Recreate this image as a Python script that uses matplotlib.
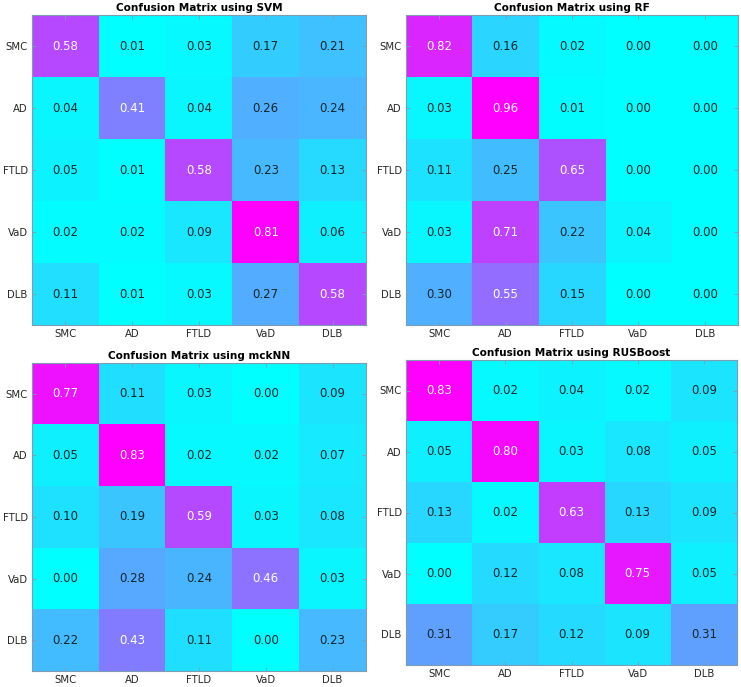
import matplotlib
matplotlib.use("Agg")
import matplotlib.pyplot as plt
import numpy as np

classes = ["SMC", "AD", "FTLD", "VaD", "DLB"]

svm = [[0.58, 0.01, 0.03, 0.17, 0.21],
       [0.04, 0.41, 0.04, 0.26, 0.24],
       [0.05, 0.01, 0.58, 0.23, 0.13],
       [0.02, 0.02, 0.09, 0.81, 0.06],
       [0.11, 0.01, 0.03, 0.27, 0.58]]

rf = [[0.82, 0.16, 0.02, 0.00, 0.00],
      [0.03, 0.96, 0.01, 0.00, 0.00],
      [0.11, 0.25, 0.65, 0.00, 0.00],
      [0.03, 0.71, 0.22, 0.04, 0.00],
      [0.30, 0.55, 0.15, 0.00, 0.00]]

mcknn = [[0.77, 0.11, 0.03, 0.00, 0.09],
         [0.05, 0.83, 0.02, 0.02, 0.07],
         [0.10, 0.19, 0.59, 0.03, 0.08],
         [0.00, 0.28, 0.24, 0.46, 0.03],
         [0.22, 0.43, 0.11, 0.00, 0.23]]

rusboost = [[0.83, 0.02, 0.04, 0.02, 0.09],
            [0.05, 0.80, 0.03, 0.08, 0.05],
            [0.13, 0.02, 0.63, 0.13, 0.09],
            [0.00, 0.12, 0.08, 0.75, 0.05],
            [0.31, 0.17, 0.12, 0.09, 0.31]]

titles = ["Confusion Matrix using SVM", "Confusion Matrix using RF",
          "Confusion Matrix using mckNN", "Confusion Matrix using RUSBoost"]
matrices = [svm, rf, mcknn, rusboost]

W, H = 741, 687
fig = plt.figure(figsize=(W / 100, H / 100), dpi=100)

# (left, top, right, bottom) in pixels
boxes = [(32, 15, 366, 325), (406, 15, 738, 325),
         (32, 363, 366, 671), (406, 360, 737, 665)]

spine_col = "#7f9cb5"
for mat, title, (l, t, r, b) in zip(matrices, titles, boxes):
    ax = fig.add_axes([l / W, 1 - b / H, (r - l) / W, (b - t) / H])
    m = np.array(mat)
    vmin, vmax = m.min(), m.max()
    ax.imshow(m, cmap="cool", vmin=vmin, vmax=vmax, aspect="auto",
              interpolation="nearest")
    for i in range(m.shape[0]):
        for j in range(m.shape[1]):
            v = m[i, j]
            frac = (v - vmin) / (vmax - vmin)
            col = "white" if frac > 0.45 else "#16262b"
            ax.text(j, i, f"{v:.2f}", ha="center", va="center",
                    color=col, fontsize=8.5)
    ax.set_xticks(range(len(classes)))
    ax.set_yticks(range(len(classes)))
    ax.set_xticklabels(classes, fontsize=7.3, color="#262626")
    ax.set_yticklabels(classes, fontsize=7.3, color="#262626")
    ax.tick_params(direction="in", length=3, width=0.6, color=spine_col,
                   top=True, right=True, pad=3)
    for s in ax.spines.values():
        s.set_color(spine_col)
        s.set_linewidth(0.8)
    ax.set_title(title, fontsize=7.6, fontweight="bold", pad=3)

fig.savefig("out.png", dpi=100)
